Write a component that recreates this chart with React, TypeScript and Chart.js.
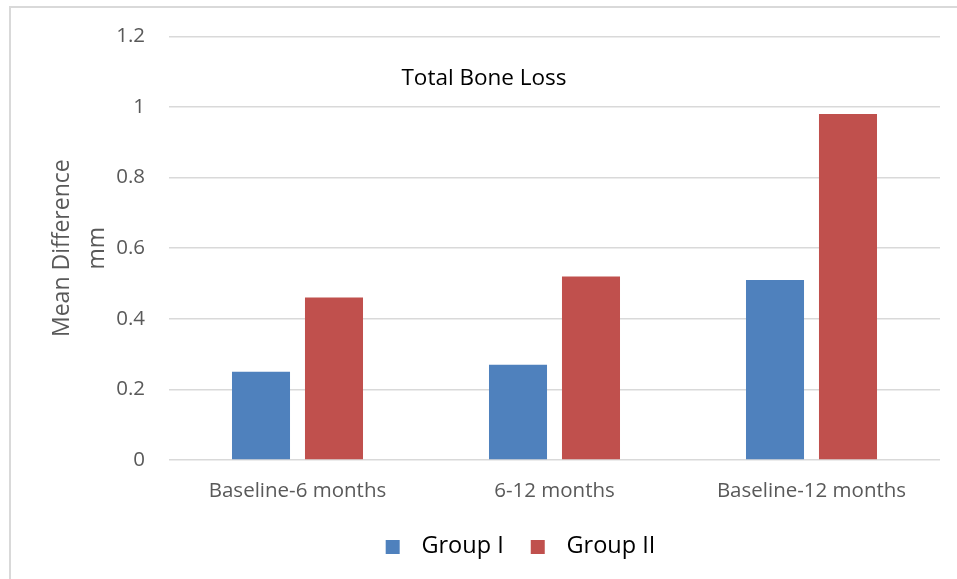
import React, { useEffect, useRef } from 'react';
import { Chart, registerables } from 'chart.js';

Chart.register(...registerables);

const categories = ['Baseline-6 months', '6-12 months', 'Baseline-12 months'];
const seriesNames = ['Group I', 'Group II'];
const groupI = [0.25, 0.27, 0.51];
const groupII = [0.46, 0.52, 0.98];
const yMin = 0;
const yMax = 1.2;
const yStep = 0.2;
const chartTitle = 'Total Bone Loss';
const yTitle = ['Mean Difference', 'mm'];

const colors = ['#4f81bd', '#c0504d'];
const FONT = '"Open Sans", "Noto Sans", sans-serif';
const FS_TICK = 20.5;
const FS_TITLE = 22.5;
const FS_YTITLE = 23;
const FS_LEGEND = 23.5;
const LEGEND_SHIFT = 42;
const SW_L = 17, SW_S = 14, SW_R = 10;

function makeSwatch(color: string) {
  const c = document.createElement('canvas');
  c.width = SW_L + SW_S + SW_R;
  c.height = SW_S;
  const g = c.getContext('2d')!;
  g.fillStyle = color;
  g.fillRect(SW_L, 0, SW_S, SW_S);
  return c;
}

export default function App() {
  const ref = useRef<HTMLCanvasElement>(null);
  useEffect(() => {
    if (!ref.current) return;
    const swatches = colors.map(makeSwatch);
    const titlePlugin = {
      id: 'innerTitle',
      afterDraw(chart: any) {
        const ctx = chart.ctx;
        ctx.save();
        ctx.font = `${FS_TITLE}px ${FONT}`;
        ctx.fillStyle = '#000';
        ctx.textAlign = 'center';
        ctx.textBaseline = 'middle';
        ctx.fillText(chartTitle, 484, 79);
        ctx.restore();
      },
    };
    const legendShift = {
      id: 'legendShift',
      afterLayout(chart: any) {
        const lg = chart.legend;
        if (lg) {
          lg.left += LEGEND_SHIFT;
          lg.right += LEGEND_SHIFT;
        }
      },
    };
    const chart = new Chart(ref.current, {
      type: 'bar',
      data: {
        labels: categories,
        datasets: [
          { label: seriesNames[0], data: groupI, backgroundColor: colors[0], borderWidth: 0 },
          { label: seriesNames[1], data: groupII, backgroundColor: colors[1], borderWidth: 0 },
        ],
      },
      options: {
        responsive: false,
        animation: false,
        devicePixelRatio: 1,
        layout: { padding: { left: 0, right: 17, top: 36, bottom: 10.5 } },
        datasets: { bar: { categoryPercentage: 0.568, barPercentage: 0.795 } } as any,
        plugins: {
          title: { display: false },
          tooltip: { enabled: false },
          legend: {
            display: true,
            position: 'bottom',
            labels: {
              usePointStyle: true,
              pointStyleWidth: SW_L + SW_S + SW_R,
              boxHeight: 14,
              padding: 10,
              color: '#000',
              font: { family: FONT, size: FS_LEGEND },
              generateLabels(chart: any) {
                const items = (Chart.defaults.plugins.legend.labels as any).generateLabels(chart);
                return items.map((it: any, i: number) => ({ ...it, pointStyle: swatches[i] }));
              },
            },
          },
        },
        scales: {
          x: {
            grid: { display: false, drawTicks: false },
            border: { display: false },
            ticks: { color: '#595959', font: { family: FONT, size: FS_TICK }, padding: 19, maxRotation: 0 },
            afterFit(scale: any) { scale.height = 65; },
          },
          y: {
            min: yMin,
            max: yMax,
            grid: { color: '#d9d9d9', lineWidth: 1.5, drawTicks: false },
            border: { display: false },
            ticks: {
              stepSize: yStep,
              color: '#595959',
              font: { family: FONT, size: FS_TICK },
              padding: 24,
              callback: (v: any) => String(Math.round(Number(v) * 10) / 10),
            },
            title: {
              display: true,
              text: yTitle,
              color: '#595959',
              font: { family: FONT, size: FS_YTITLE, lineHeight: '35px' as any },
              padding: { top: 44.5, bottom: 0 },
            },
            afterFit(scale: any) { scale.width = 169; },
          },
        },
      },
      plugins: [titlePlugin, legendShift],
    });
    return () => chart.destroy();
  }, []);
  return (
    <div style={{ position: 'fixed', left: 0, top: 0, width: 957, height: 579, background: '#fff', overflow: 'hidden' }}>
      <div style={{ position: 'absolute', left: 9, top: 6, width: 1000, height: 1000, borderTop: '2px solid #d9d9d9', borderLeft: '2px solid #d9d9d9', boxSizing: 'border-box' }} />
      <canvas ref={ref} width={957} height={579} style={{ position: 'absolute', left: 0, top: 0, width: 957, height: 579 }} />
    </div>
  );
}
